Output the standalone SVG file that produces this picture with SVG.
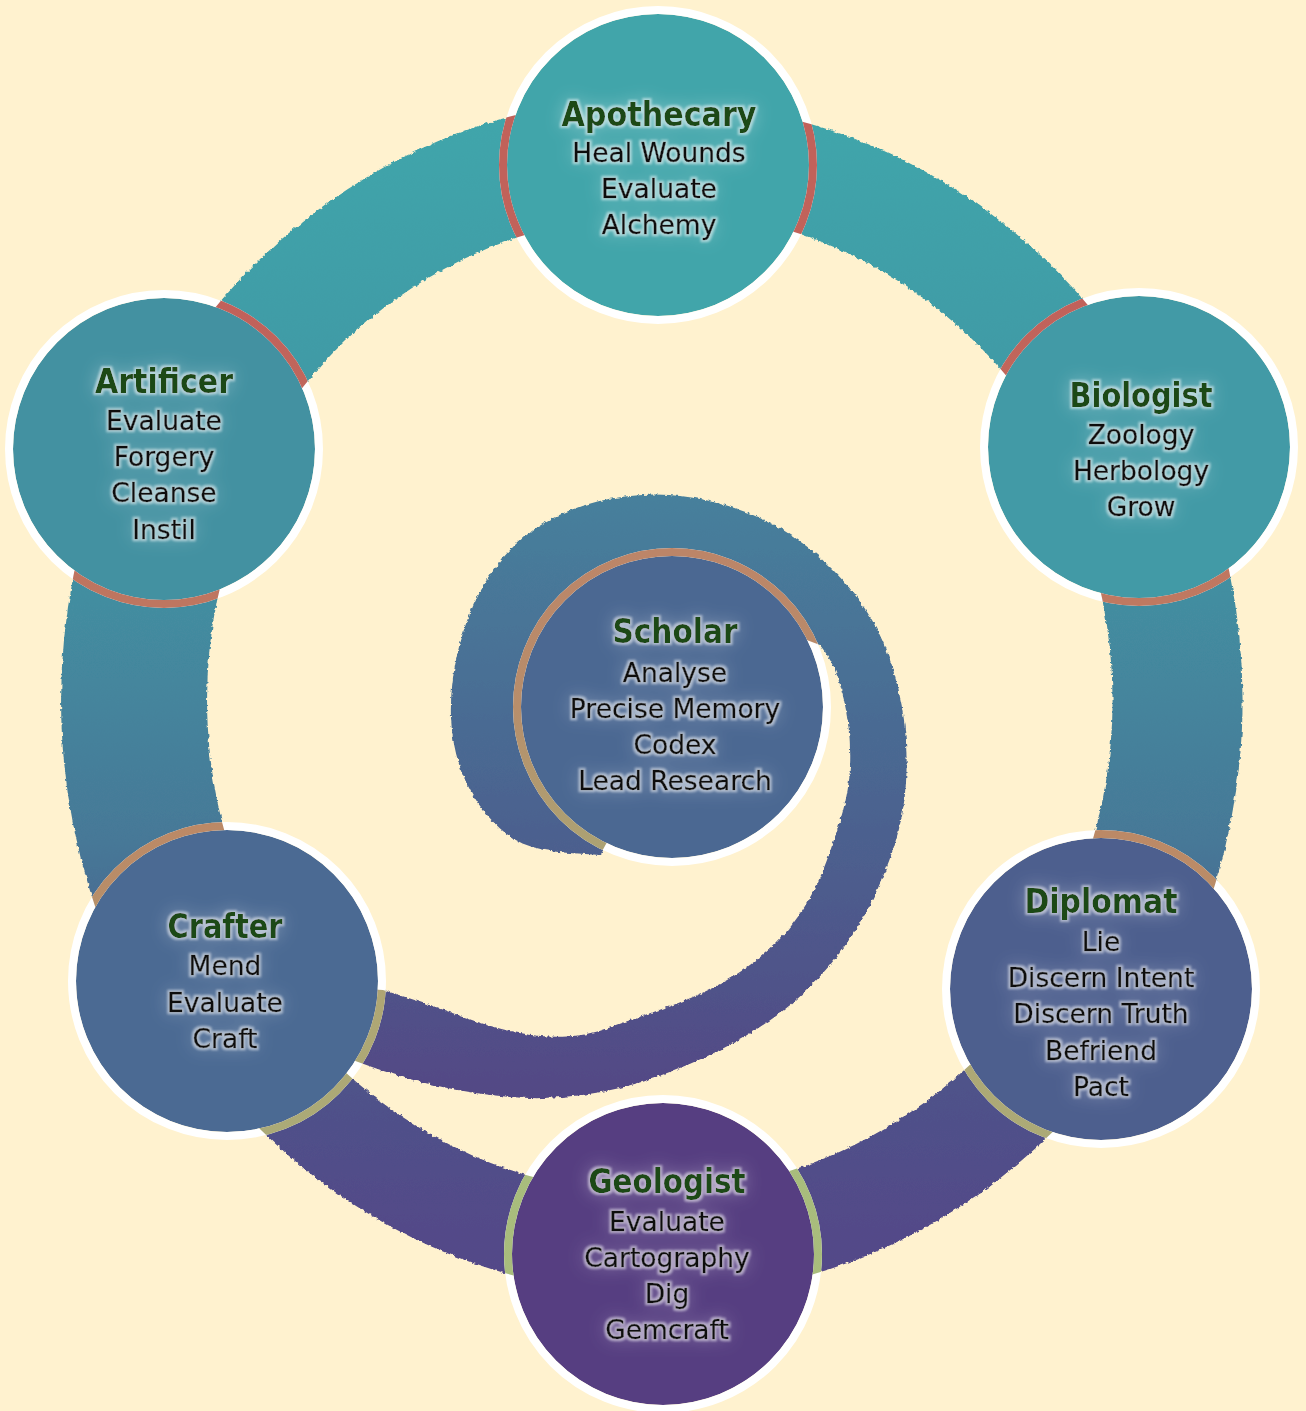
<svg xmlns="http://www.w3.org/2000/svg" xmlns:xlink="http://www.w3.org/1999/xlink" width="1306" height="1411" viewBox="0 0 1306 1411">
<style>
.t{font-family:"DejaVu Sans",Verdana,sans-serif;font-weight:bold;font-size:33px;fill:#1E4A14;text-anchor:middle}
.i{font-family:"DejaVu Sans",Verdana,sans-serif;font-size:26.5px;fill:#080808;stroke:#080808;stroke-width:0.5;text-anchor:middle}
.rim{fill:none;stroke:#FFFFFF;stroke-width:8}
.arc{fill:none;stroke-width:8}
</style>
<defs>
  <linearGradient id="ringGrad" gradientUnits="userSpaceOnUse" x1="0" y1="100" x2="0" y2="1300">
    <stop offset="0" stop-color="#3FA6AB"/>
    <stop offset="0.35" stop-color="#4294A3"/>
    <stop offset="0.62" stop-color="#467897"/>
    <stop offset="0.78" stop-color="#4E558A"/>
    <stop offset="1" stop-color="#544688"/>
  </linearGradient>
  <linearGradient id="spiralGrad" gradientUnits="userSpaceOnUse" x1="0" y1="495" x2="0" y2="1100">
    <stop offset="0" stop-color="#46809C"/>
    <stop offset="0.5" stop-color="#4B6490"/>
    <stop offset="1" stop-color="#534885"/>
  </linearGradient>
  <linearGradient id="gRed" x1="0" y1="0" x2="0" y2="1"><stop offset="0" stop-color="#C1615A"/><stop offset="1" stop-color="#C1635A"/></linearGradient>
  <linearGradient id="gArt" x1="0" y1="0" x2="0" y2="1"><stop offset="0" stop-color="#C1605A"/><stop offset="1" stop-color="#BE7660"/></linearGradient>
  <linearGradient id="gBio" x1="0" y1="0" x2="0" y2="1"><stop offset="0" stop-color="#C1605A"/><stop offset="1" stop-color="#BF7961"/></linearGradient>
  <linearGradient id="gSch" x1="0" y1="0" x2="0" y2="1"><stop offset="0" stop-color="#BC8568"/><stop offset="0.5" stop-color="#B78E6B"/><stop offset="1" stop-color="#ABA474"/></linearGradient>
  <linearGradient id="gMid" x1="0" y1="0" x2="0" y2="1"><stop offset="0" stop-color="#BC8966"/><stop offset="0.2" stop-color="#B98D68"/><stop offset="0.55" stop-color="#AFA674"/><stop offset="1" stop-color="#ABAA77"/></linearGradient>
  <linearGradient id="gGeo" x1="0" y1="0" x2="0" y2="1"><stop offset="0" stop-color="#A8BC7C"/><stop offset="1" stop-color="#A9BD7D"/></linearGradient>
  <path id="s1" d="M 187 462 A 522 544 0 0 1 656 156" stroke-width="118"/>
  <path id="s2" d="M 656 156 A 522 544 0 0 1 1122 456" stroke-width="108"/>
  <path id="s3" d="M 1122 456 A 522 544 0 0 1 1098 989" stroke-width="130"/>
  <path id="s4" d="M 1098 989 A 522 544 0 0 1 663 1244" stroke-width="106"/>
  <path id="s5" d="M 663 1244 A 522 544 0 0 1 214 990" stroke-width="100"/>
  <path id="s6" d="M 214 990 A 522 544 0 0 1 187 462" stroke-width="146"/>
  <path id="sp" d="M 600 855 L 570 853 Q 540 851 522.5 843.5 Q 505 836 487.5 815.5 Q 470 795 461 770 Q 452 745 451 717.5 Q 450 690 456 660 Q 462 630 473.5 605 Q 485 580 502.5 558.5 Q 520 537 545 522.5 Q 570 508 597.5 501.5 Q 625 495 652.5 494.5 Q 680 494 710 501 Q 740 508 767.5 521.5 Q 795 535 820 557.5 Q 845 580 862.5 605 Q 880 630 890 660 Q 900 690 904 720 Q 908 750 906 782.5 Q 904 815 894.5 845 Q 885 875 870 905 Q 855 935 830 965 Q 805 995 777.5 1015 Q 750 1035 720 1050 Q 690 1065 655 1077.5 Q 620 1090 582.5 1095 Q 545 1100 510 1097 Q 475 1094 442.5 1087 Q 410 1080 385 1071.5 Q 360 1063 330 1051.5 L 300 1040 L 300 985 L 383 990 L 410 998.5 Q 437 1007 463.5 1017 Q 490 1027 517 1032.5 Q 544 1038 567 1036.5 Q 590 1035 610 1027.5 Q 630 1020 655 1011.5 Q 680 1003 702 993 Q 724 983 743 970 Q 762 957 777 942 Q 792 927 805 906 Q 818 885 827 860 Q 836 835 842.5 812.5 Q 849 790 850 767.5 Q 851 745 848 722.5 Q 845 700 838 678 Q 832 660 820 645 L 780 630 L 700 605 L 600 640 L 580 740 L 630 800 Z"/>
  <mask id="bandMask" maskUnits="userSpaceOnUse" x="0" y="0" width="1306" height="1411">
    <g fill="none" stroke="#FFFFFF">
      <use xlink:href="#s1"/><use xlink:href="#s2"/><use xlink:href="#s3"/>
      <use xlink:href="#s4"/><use xlink:href="#s5"/><use xlink:href="#s6"/>
    </g>
    <use xlink:href="#sp" fill="#FFFFFF"/>
  </mask>
  <filter id="rough" filterUnits="userSpaceOnUse" x="0" y="0" width="1306" height="1411">
    <feTurbulence type="fractalNoise" baseFrequency="0.25" numOctaves="2" seed="4" result="n"/>
    <feDisplacementMap in="SourceGraphic" in2="n" scale="4" xChannelSelector="R" yChannelSelector="G"/>
  </filter>
  <filter id="glow" x="-20%" y="-25%" width="140%" height="150%">
    <feGaussianBlur in="SourceAlpha" stdDeviation="9" result="b2"/>
    <feFlood flood-color="#FFFFFF" flood-opacity="0.5" result="f2"/>
    <feComposite in="f2" in2="b2" operator="in" result="o2"/>
    <feMorphology in="SourceAlpha" operator="dilate" radius="2" result="d1"/>
    <feGaussianBlur in="d1" stdDeviation="0.8" result="b1"/>
    <feFlood flood-color="#FFFFFF" flood-opacity="0.5" result="f1"/>
    <feComposite in="f1" in2="b1" operator="in" result="o1"/>
    <feMerge><feMergeNode in="o2"/><feMergeNode in="o1"/><feMergeNode in="SourceGraphic"/></feMerge>
  </filter>
</defs>
<rect x="0" y="0" width="1306" height="1411" fill="#FFF2CF"/>
<g id="connectors" filter="url(#rough)">
  <g fill="none" stroke="url(#ringGrad)">
    <use xlink:href="#s1"/><use xlink:href="#s2"/><use xlink:href="#s3"/>
    <use xlink:href="#s4"/><use xlink:href="#s5"/><use xlink:href="#s6"/>
  </g>
  <use id="spiral" xlink:href="#sp" fill="url(#spiralGrad)"/>
</g>
<g id="node-apothecary">
  <circle cx="658" cy="165" r="151" fill="#41A5AA"/>
  <circle class="rim" cx="658" cy="165" r="155"/>
  <circle class="arc" cx="658" cy="165" r="155" stroke="url(#gRed)" mask="url(#bandMask)"/>
  <g filter="url(#glow)">
    <text class="t" x="659" y="126" textLength="195" lengthAdjust="spacingAndGlyphs">Apothecary</text>
    <text class="i" x="659" y="162">Heal Wounds</text>
    <text class="i" x="659" y="198">Evaluate</text>
    <text class="i" x="659" y="234">Alchemy</text>
  </g>
</g>
<g id="node-artificer">
  <circle cx="164" cy="449" r="151" fill="#4391A1"/>
  <circle class="rim" cx="164" cy="449" r="155"/>
  <circle class="arc" cx="164" cy="449" r="155" stroke="url(#gArt)" mask="url(#bandMask)"/>
  <g filter="url(#glow)">
    <text class="t" x="164" y="393" textLength="138" lengthAdjust="spacingAndGlyphs">Artificer</text>
    <text class="i" x="164" y="430">Evaluate</text>
    <text class="i" x="164" y="466">Forgery</text>
    <text class="i" x="164" y="502">Cleanse</text>
    <text class="i" x="164" y="539">Instil</text>
  </g>
</g>
<g id="node-biologist">
  <circle cx="1139" cy="447" r="151" fill="#429AA6"/>
  <circle class="rim" cx="1139" cy="447" r="155"/>
  <circle class="arc" cx="1139" cy="447" r="155" stroke="url(#gBio)" mask="url(#bandMask)"/>
  <g filter="url(#glow)">
    <text class="t" x="1141" y="407" textLength="143" lengthAdjust="spacingAndGlyphs">Biologist</text>
    <text class="i" x="1141" y="444">Zoology</text>
    <text class="i" x="1141" y="480">Herbology</text>
    <text class="i" x="1141" y="516">Grow</text>
  </g>
</g>
<g id="node-scholar">
  <circle cx="672" cy="707" r="151" fill="#4B6892"/>
  <circle class="rim" cx="672" cy="707" r="155"/>
  <circle class="arc" cx="672" cy="707" r="155" stroke="url(#gSch)" mask="url(#bandMask)"/>
  <g filter="url(#glow)">
    <text class="t" x="675" y="643" textLength="125" lengthAdjust="spacingAndGlyphs">Scholar</text>
    <text class="i" x="675" y="682">Analyse</text>
    <text class="i" x="675" y="718">Precise Memory</text>
    <text class="i" x="675" y="754">Codex</text>
    <text class="i" x="675" y="790">Lead Research</text>
  </g>
</g>
<g id="node-crafter">
  <circle cx="227" cy="981" r="151" fill="#4B6A93"/>
  <circle class="rim" cx="227" cy="981" r="155"/>
  <circle class="arc" cx="227" cy="981" r="155" stroke="url(#gMid)" mask="url(#bandMask)"/>
  <g filter="url(#glow)">
    <text class="t" x="225" y="938" textLength="115" lengthAdjust="spacingAndGlyphs">Crafter</text>
    <text class="i" x="225" y="975">Mend</text>
    <text class="i" x="225" y="1012">Evaluate</text>
    <text class="i" x="225" y="1048">Craft</text>
  </g>
</g>
<g id="node-diplomat">
  <circle cx="1101" cy="989" r="151" fill="#4D5F8E"/>
  <circle class="rim" cx="1101" cy="989" r="155"/>
  <circle class="arc" cx="1101" cy="989" r="155" stroke="url(#gMid)" mask="url(#bandMask)"/>
  <g filter="url(#glow)">
    <text class="t" x="1101" y="913" textLength="153" lengthAdjust="spacingAndGlyphs">Diplomat</text>
    <text class="i" x="1101" y="951">Lie</text>
    <text class="i" x="1101" y="987">Discern Intent</text>
    <text class="i" x="1101" y="1023">Discern Truth</text>
    <text class="i" x="1101" y="1060">Befriend</text>
    <text class="i" x="1101" y="1096">Pact</text>
  </g>
</g>
<g id="node-geologist">
  <circle cx="663" cy="1254" r="151" fill="#563E81"/>
  <circle class="rim" cx="663" cy="1254" r="155"/>
  <circle class="arc" cx="663" cy="1254" r="155" stroke="url(#gGeo)" mask="url(#bandMask)"/>
  <g filter="url(#glow)">
    <text class="t" x="667" y="1193" textLength="157" lengthAdjust="spacingAndGlyphs">Geologist</text>
    <text class="i" x="667" y="1231">Evaluate</text>
    <text class="i" x="667" y="1267">Cartography</text>
    <text class="i" x="667" y="1303">Dig</text>
    <text class="i" x="667" y="1339">Gemcraft</text>
  </g>
</g>
</svg>
